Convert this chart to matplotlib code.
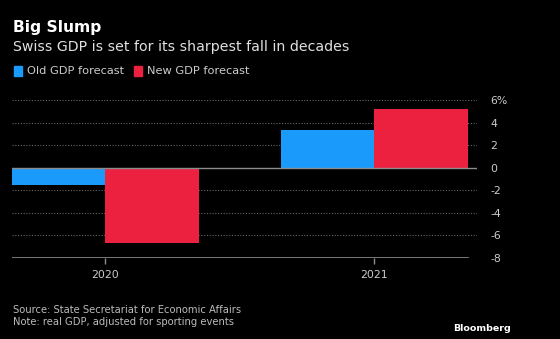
import matplotlib.pyplot as plt
import numpy as np

# Data
years = ["2020", "2021"]
old_forecast = [-1.5, 3.3]
new_forecast = [-6.7, 5.2]
y_ticks = [6, 4, 2, 0, -2, -4, -6, -8]

BLUE = "#1a9bfc"
RED = "#ec2140"
GREY = "#8c8c8c"

fig = plt.figure(figsize=(5.6, 3.39), dpi=100, facecolor="black")
ax = fig.add_axes([0.0214, 0.239, 0.83, 0.466], facecolor="black")

x = np.arange(len(years))
w = 0.347
ax.bar(x - w / 2, old_forecast, w, color=BLUE, zorder=3)
ax.bar(x + w / 2, new_forecast, w, color=RED, zorder=3)

ax.set_xlim(-w, 1.381)
ax.set_ylim(-8, 6)

# gridlines
for t in y_ticks:
    if t == 0:
        ax.axhline(t, color=GREY, lw=1, zorder=4)
    elif t == -8:
        ax.axhline(t, xmax=(1 + w + w) / (1.381 + w), color=GREY, lw=1.2, zorder=4)
    else:
        ax.axhline(t, color="#666666", lw=0.8, ls=(0, (1, 1.5)), zorder=1)

for s in ax.spines.values():
    s.set_visible(False)

ax.yaxis.tick_right()
ax.set_yticks(y_ticks)
ax.set_yticklabels([f"{t}%" if t == 6 else str(t) for t in y_ticks])
ax.tick_params(axis="y", length=0, pad=10, labelsize=7.8, colors="#cccccc")
ax.set_xticks(x)
ax.set_xticklabels(years)
ax.tick_params(axis="x", length=4, width=1, color=GREY, pad=5, labelsize=7.8, labelcolor="#cccccc")

# titles and legend
fig.text(0.023, 0.918, "Big Slump", color="white", fontsize=11.2, fontweight="bold", va="center")
fig.text(0.023, 0.862, "Swiss GDP is set for its sharpest fall in decades", color="#e0e0e0",
         fontsize=10.2, va="center")
fig.patches.append(plt.Rectangle((0.025, 0.777), 0.014, 0.028, color=BLUE, transform=fig.transFigure))
fig.text(0.048, 0.79, "Old GDP forecast", color="#cccccc", fontsize=8.2, va="center")
fig.patches.append(plt.Rectangle((0.24, 0.777), 0.014, 0.028, color=RED, transform=fig.transFigure))
fig.text(0.262, 0.79, "New GDP forecast", color="#cccccc", fontsize=8.2, va="center")

# footer
fig.text(0.023, 0.085, "Source: State Secretariat for Economic Affairs", color="#bbbbbb",
         fontsize=7.2, va="center")
fig.text(0.023, 0.05, "Note: real GDP, adjusted for sporting events", color="#bbbbbb",
         fontsize=7.2, va="center")
fig.text(0.913, 0.032, "Bloomberg", color="white", fontsize=6.8, fontweight="bold",
         ha="right", va="center")

fig.savefig("out.png", dpi=100, facecolor="black")
